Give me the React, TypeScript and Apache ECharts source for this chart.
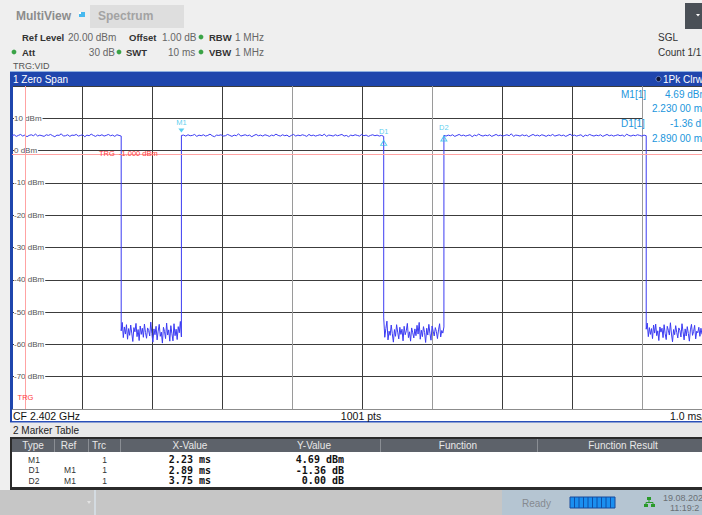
import React, { useEffect, useRef } from "react";
import * as echarts from "echarts";

// ---------- scale settings ----------
const REF_LEVEL = 20; // dBm (top of the diagram)
const Y_BOTTOM = -80; // dBm
const DB_PER_DIV = 10;
const MS_PER_DIV = 1.0;
const TRIGGER_POS_DIV = 0.19; // trigger point, in divisions from the left edge
const VISIBLE_DIVS = 9.857; // the screenshot cuts the diagram at the right
const TRIGGER_LEVEL = -1.0; // dBm

// ---------- trace (edge times in ms, relative to trigger) ----------
const edgeTimes = [-0.19, 1.37, 2.23, 5.12, 5.98, 8.87, 9.667];

const high1 = [4.6, 4.9, 4.4, 4.7, 5.0, 4.5, 4.8, 4.3, 4.7, 4.9, 4.6, 5.1, 4.5, 4.8, 4.6, 4.4, 4.9, 4.7, 5.0, 4.6, 4.3, 4.8, 4.7, 5.2, 4.5, 4.6, 4.9, 4.4, 4.8, 4.7, 5.0, 4.5, 4.7, 4.9, 4.3, 4.8, 4.6, 5.1, 4.7, 4.4, 4.8, 4.6, 4.9, 4.5, 4.7, 5.0, 4.6, 4.8, 4.4, 4.9, 4.7, 4.5];
const low1 = [-55.8, -53.2, -57.9, -54.6, -56.8, -53.9, -58.4, -55.1, -57.2, -54.0, -56.5, -59.1, -54.8, -56.1, -53.5, -57.6, -55.4, -58.8, -54.3, -56.9, -55.0, -57.8, -53.7, -56.3, -58.1, -54.9, -55.7, -57.4, -53.1, -56.6, -59.3, -55.2, -57.0, -54.4, -58.6, -55.9, -53.8, -57.5, -56.2, -59.6, -54.7, -56.0, -58.2, -53.4, -57.1, -55.5, -59.0, -54.2, -56.7, -58.9, -53.6, -57.3, -55.3, -58.5, -54.5, -56.4, -52.9, -57.7];
const high2 = [4.69, 4.8, 4.5, 4.9, 4.6, 4.7, 5.0, 4.4, 4.8, 4.6, 4.9, 4.5, 4.7, 5.1, 4.6, 4.3, 4.8, 4.7, 4.9, 4.5, 4.6, 5.0, 4.7, 4.4, 4.8, 4.6, 5.2, 4.5, 4.7, 4.9, 4.6, 4.8, 4.3, 4.7, 5.0, 4.6, 4.8, 4.5, 4.9, 4.7, 4.4, 4.8, 4.6, 5.1, 4.7, 4.5, 4.9, 4.6, 4.8, 4.3, 4.7, 5.0, 4.5, 4.8, 4.6, 4.9, 4.7, 4.4, 5.0, 4.6, 4.8, 4.5, 4.7, 4.9, 4.6, 5.1, 4.4, 4.8, 4.7, 4.5, 4.9, 4.6, 4.8, 5.0, 4.5, 4.7, 4.3, 4.8, 4.6, 4.9, 4.7, 4.5, 5.0, 4.6, 4.8, 4.4, 4.7, 4.9, 4.6, 4.8, 4.5, 4.7, 4.4];
const low2 = [-51.8, -57.8, -55.1, -52.8, -58.6, -55.9, -57.2, -54.0, -56.7, -59.3, -55.4, -57.5, -53.9, -56.2, -58.3, -54.7, -56.9, -55.3, -58.9, -54.4, -57.0, -55.8, -53.5, -57.9, -56.1, -59.0, -54.9, -56.4, -58.0, -55.2, -57.3, -54.1, -56.8, -53.2, -58.4, -55.6, -57.6, -54.5, -56.3, -59.4, -55.0, -57.1, -53.8, -56.6, -58.7, -54.3, -55.9, -57.4, -54.8, -56.0, -58.2, -55.5, -53.6, -57.7, -55.7, -56.5, -54.6];
const high3 = [4.69, 4.5, 4.8, 4.6, 4.9, 4.4, 4.7, 5.0, 4.6, 4.8, 4.5, 4.7, 4.9, 4.3, 4.8, 4.6, 5.1, 4.7, 4.5, 4.8, 4.6, 4.9, 4.4, 4.7, 5.0, 4.6, 4.8, 4.5, 4.7, 4.9, 4.6, 5.2, 4.4, 4.8, 4.7, 4.5, 4.9, 4.6, 4.8, 4.3, 4.7, 5.0, 4.6, 4.8, 4.5, 4.9, 4.7, 4.4, 4.8, 4.6, 5.0, 4.5, 4.7, 4.9, 4.6, 4.8, 4.4, 4.7, 5.1, 4.6, 4.8, 4.5, 4.7, 4.9, 4.3, 4.8, 4.6, 5.0, 4.7, 4.5, 4.8, 4.6, 4.9, 4.4, 4.7, 5.0, 4.6, 4.8, 4.5, 4.7, 4.9, 4.6, 4.8, 4.4, 5.1, 4.7, 4.5, 4.8, 4.6, 4.9, 4.7, 4.5, 4.8, 4.6];
const low3 = [-55.3, -53.4, -57.6, -54.8, -56.9, -55.1, -58.2, -54.0, -56.5, -53.7, -57.3, -55.8, -58.8, -54.6, -56.2, -55.0, -57.9, -53.9, -56.7, -58.5, -54.4, -55.6, -57.1, -53.3, -56.8, -59.2, -55.4, -57.0, -54.2, -56.3, -58.0, -54.9, -55.7, -57.7, -53.6, -56.1, -58.6, -55.2, -57.4, -54.5, -56.6, -59.0, -55.5, -53.8, -57.2, -56.0, -54.1, -58.3, -55.9, -56.4, -54.7, -57.5, -55.0, -56.9];
const traceSegments = [high1, low1, high2, low2, high3, low3];

// ---------- markers ----------
const m1Time = 2.23; // ms
const m1Level = 4.69; // dBm
const markerNames = ["M1", "D1", "D2"];
const deltaTimes = [0, 2.89, 3.75]; // ms relative to M1
const deltaLevels = [0, -1.36, 0.0]; // dB relative to M1

// ---------- marker table ----------
const tableHeaders = ["Type", "Ref", "Trc", "X-Value", "Y-Value", "Function", "Function Result"];
const tableTypes = ["M1", "D1", "D2"];
const tableRefs = ["", "M1", "M1"];
const tableTrc = ["1", "1", "1"];
const tableX = ["2.23 ms", "2.89 ms", "3.75 ms"];
const tableY = ["4.69 dBm", "-1.36 dB", "0.00 dB"];

const yTickValues = [10, 0, -10, -20, -30, -40, -50, -60, -70];

const SANS = '"Liberation Sans", Arial, sans-serif';
const MONO = '"DejaVu Sans Mono", monospace';

function toDiv(ms: number) {
  return ms / MS_PER_DIV + TRIGGER_POS_DIV;
}

function txt(x: number, y: number, text: string, o: any = {}) {
  const align = o.align ?? "left";
  return {
    type: "text",
    x,
    y,
    z: o.z ?? 10,
    silent: true,
    style: {
      text,
      fill: o.fill ?? "#222",
      fontSize: o.size ?? 10,
      fontFamily: o.family ?? SANS,
      fontWeight: o.bold ? "bold" : "normal",
      align,
      textAlign: align,
      verticalAlign: "middle",
      textVerticalAlign: "middle",
    },
  };
}
function rect(x: number, y: number, w: number, h: number, fill: string, o: any = {}) {
  return {
    type: "rect",
    z: o.z ?? 5,
    silent: true,
    shape: { x, y, width: w, height: h },
    style: { fill, stroke: o.stroke ?? null, lineWidth: o.lineWidth ?? 0 },
  };
}
function dot(cx: number, cy: number, fill: string) {
  return { type: "circle", z: 10, silent: true, shape: { cx, cy, r: 2.4 }, style: { fill } };
}
function line(x1: number, y1: number, x2: number, y2: number, stroke: string, w = 1) {
  return { type: "line", z: 11, silent: true, shape: { x1, y1, x2, y2 }, style: { stroke, lineWidth: w } };
}

export default function App() {
  const ref = useRef<HTMLDivElement>(null);

  useEffect(() => {
    if (!ref.current) return;
    const chart = echarts.init(ref.current, undefined, { renderer: "svg" });

    const traceData: number[][] = [];
    traceSegments.forEach((vals, s) => {
      const t0 = edgeTimes[s];
      const t1 = edgeTimes[s + 1];
      vals.forEach((v, i) => {
        const t = t0 + ((t1 - t0) * i) / (vals.length - 1);
        traceData.push([toDiv(t), v]);
      });
    });

    const mColor = "#2fc2ea";
    const markerData = markerNames.map((name, i) => {
      const isRef = i === 0;
      return {
        value: [toDiv(m1Time + deltaTimes[i]), m1Level + deltaLevels[i]],
        symbol: isRef ? "path://M0,0 L10,0 L5,8 Z" : "triangle",
        symbolSize: isRef ? [6, 4] : [6, 5],
        symbolOffset: isRef ? [0, -5] : [0, 3],
        itemStyle: isRef
          ? { color: mColor }
          : { color: "rgba(255,255,255,0)", borderColor: mColor, borderWidth: 1 },
        label: {
          show: true,
          formatter: name,
          position: "top",
          distance: isRef ? 2 : 4,
          color: mColor,
          fontSize: 7.5,
          fontFamily: SANS,
        },
      };
    });

    const gridColorsX = ["#1f46ad", "#3c3c3c", "#3c3c3c", "#3c3c3c", "#9a9a9a", "#3c3c3c", "#9a9a9a", "#3c3c3c", "#3c3c3c", "#9a9a9a", "#3c3c3c"];
    const gridColorsY = ["#8c8c8c", "#3c3c3c", "#3c3c3c", "#3c3c3c", "#3c3c3c", "#3c3c3c", "#3c3c3c", "#3c3c3c", "#3c3c3c", "#3c3c3c", "#3c3c3c"];

    const green = "#3aa346";
    const infoColor = "#2196dc";
    const B = 9.5; // bold header label size
    const graphics: any[] = [
      // header
      txt(16, 16, "MultiView", { bold: true, size: 12, fill: "#8c8c8c" }),
      rect(79, 12, 6, 5, "#47b9ef"),
      rect(79, 12, 2, 2, "#ffffff", { z: 6 }),
      rect(90, 5, 94, 23, "#dedede"),
      txt(98, 16, "Spectrum", { bold: true, size: 12, fill: "#a3a3a3" }),
      txt(22, 37, "Ref Level", { bold: true, size: B, fill: "#333" }),
      txt(68, 37, "20.00 dBm", { fill: "#666" }),
      txt(129, 37, "Offset", { bold: true, size: B, fill: "#333" }),
      txt(162, 37, "1.00 dB", { fill: "#666" }),
      dot(201, 37, green),
      txt(209, 37, "RBW", { bold: true, size: B, fill: "#333" }),
      txt(235, 37, "1 MHz", { fill: "#666" }),
      dot(14, 52, green),
      txt(22, 52, "Att", { bold: true, size: B, fill: "#333" }),
      txt(115, 52, "30 dB", { fill: "#666", align: "right" }),
      dot(119, 52, green),
      txt(126, 52, "SWT", { bold: true, size: B, fill: "#333" }),
      txt(168, 52, "10 ms", { fill: "#666" }),
      dot(201, 52, green),
      txt(209, 52, "VBW", { bold: true, size: B, fill: "#333" }),
      txt(235, 52, "1 MHz", { fill: "#666" }),
      txt(13, 65.5, "TRG:VID", { size: 9, fill: "#555" }),
      rect(685, 3, 17, 26, "#4a5057"),
      { type: "polygon", z: 11, silent: true, shape: { points: [[696, 14], [700, 14], [698, 16.5]] }, style: { fill: "#ffffff" } },
      txt(658, 37, "SGL", { fill: "#333" }),
      txt(658, 52, "Count 1/1", { fill: "#333" }),

      // window 1 frame & title
      rect(10, 71, 692, 1, "#8fb0e0"),
      rect(10, 72, 692, 14, "#1f46ad"),
      txt(13, 79, "1 Zero Span", { fill: "#ffffff" }),
      { type: "circle", z: 11, silent: true, shape: { cx: 658.5, cy: 79, r: 2.6 }, style: { fill: "#0d1435", stroke: "#7f9be0", lineWidth: 0.8 } },
      txt(663, 79, "1Pk Clrw", { fill: "#ffffff" }),
      rect(10, 72, 2, 350, "#1f46ad", { z: 6 }),
      rect(12, 410, 690, 11, "#ffffff"),
      rect(10, 421, 692, 1.5, "#2a50b8"),
      txt(13, 416, "CF 2.402 GHz", { size: 10.5, fill: "#111" }),
      txt(361, 416, "1001 pts", { size: 10.5, fill: "#111", align: "center" }),
      txt(670, 416, "1.0 ms/", { size: 10.5, fill: "#111" }),

      // trigger annotations
      txt(99, 153.5, "TRG  -1.000 dBm", { size: 7.5, fill: "#ff3b3b", z: 12 }),
      txt(25.5, 397, "TRG", { size: 7.5, fill: "#ff3b3b", align: "center", z: 12 }),

      // marker info box
      rect(643, 87, 59, 60, "#ffffff", { z: 1 }),
      txt(621, 94, "M1[1]", { fill: infoColor }),
      txt(665, 94, "4.69 dBm", { fill: infoColor }),
      txt(652, 108, "2.230 00 ms", { fill: infoColor }),
      txt(621, 123, "D1[1]", { fill: infoColor }),
      txt(670, 123, "-1.36 dB", { fill: infoColor }),
      txt(652, 138, "2.890 00 ms", { fill: infoColor }),

      // window 2: marker table
      rect(10, 423, 692, 14, "#e9e9e9"),
      txt(13, 430.5, "2 Marker Table", { fill: "#222" }),
      rect(10, 437, 692, 53, "#2b2b2b"),
      rect(12, 439, 690, 13, "#5d626a", { z: 6 }),
      rect(12, 452, 690, 35, "#ffffff", { z: 6 }),
      line(54.5, 439, 54.5, 452, "#8a8e94"),
      line(88.5, 439, 88.5, 452, "#8a8e94"),
      line(120.5, 439, 120.5, 452, "#8a8e94"),
      line(380.5, 439, 380.5, 452, "#8a8e94"),
      line(537.5, 439, 537.5, 452, "#8a8e94"),

      // status bar
      rect(0, 490, 502, 25, "#c6c6c6"),
      rect(502, 490, 200, 25, "#b5c5d2"),
      rect(94, 490, 2, 25, "#d4dbe1", { z: 6 }),
      { type: "polygon", z: 11, silent: true, shape: { points: [[87, 501], [91, 501], [89, 504]] }, style: { fill: "#e2e2e2" } },
      txt(522, 503, "Ready", { fill: "#858a90" }),
      rect(570, 497, 45, 11, "#1a8ff0", { stroke: "#174a9c", lineWidth: 1, z: 6 }),
      txt(663, 497.5, "19.08.202", { size: 9, fill: "#6b7075" }),
      txt(670, 507.5, "11:19:2", { size: 9, fill: "#6b7075" }),
      rect(647, 497, 4, 3, "#2a9a2a", { z: 11 }),
      rect(644, 504, 4, 3, "#2a9a2a", { z: 11 }),
      rect(651, 504, 4, 3, "#2a9a2a", { z: 11 }),
      line(649, 500, 649, 502.5, "#2a9a2a"),
      line(646, 502.5, 653, 502.5, "#2a9a2a"),
      line(646, 502.5, 646, 504, "#2a9a2a"),
      line(653, 502.5, 653, 504, "#2a9a2a"),
    ];
    for (let k = 1; k < 10; k++) {
      graphics.push(line(570 + 4.5 * k, 497, 570 + 4.5 * k, 508, "#0e4fa8"));
    }
    const colCenters = [33, 68.5, 99, 190, 314, 458, 623];
    tableHeaders.forEach((h, i) => graphics.push(txt(colCenters[i], 445.5, h, { fill: "#e8e8e8", align: "center" })));
    const rowY = [459.5, 470, 480.5];
    tableTypes.forEach((t, i) => {
      graphics.push(txt(34, rowY[i], t, { size: 8.5, fill: "#333", align: "center" }));
      graphics.push(txt(70, rowY[i], tableRefs[i], { size: 8.5, fill: "#333", align: "center" }));
      graphics.push(txt(104.5, rowY[i], tableTrc[i], { size: 8.5, fill: "#333", align: "center" }));
      graphics.push(txt(211, rowY[i], tableX[i], { size: 10, bold: true, family: MONO, fill: "#111", align: "right" }));
      graphics.push(txt(344, rowY[i], tableY[i], { size: 10, bold: true, family: MONO, fill: "#111", align: "right" }));
    });

    chart.setOption({
      animation: false,
      backgroundColor: "#efefef",
      textStyle: { fontFamily: SANS },
      grid: {
        left: 12,
        top: 86,
        width: 690,
        height: 323,
        show: true,
        backgroundColor: "#ffffff",
        borderWidth: 0,
      },
      xAxis: {
        type: "value",
        min: 0,
        max: VISIBLE_DIVS,
        interval: 1,
        axisLabel: { show: false },
        axisLine: { show: false },
        axisTick: { show: false },
        splitLine: { show: true, lineStyle: { color: gridColorsX, width: 1 } },
      },
      yAxis: {
        type: "value",
        min: Y_BOTTOM,
        max: REF_LEVEL,
        interval: DB_PER_DIV,
        axisLine: { show: false },
        axisTick: { show: false },
        axisLabel: {
          inside: true,
          margin: 2,
          showMinLabel: false,
          showMaxLabel: false,
          fontSize: 8,
          color: "#555",
          fontFamily: SANS,
          backgroundColor: "#ffffff",
          padding: [0, 1, 0, 0],
          formatter: (v: number) => (yTickValues.includes(v) ? `${v} dBm` : ""),
        },
        splitLine: { show: true, lineStyle: { color: gridColorsY, width: 1 } },
      },
      series: [
        {
          type: "line",
          name: "Trace 1",
          data: traceData,
          showSymbol: false,
          symbol: "none",
          silent: true,
          z: 3,
          lineStyle: { color: "#3b3bf2", width: 1 },
          markLine: {
            silent: true,
            symbol: ["none", "none"],
            label: { show: false },
            lineStyle: { color: "#ffa3a3", type: "solid", width: 1 },
            data: [{ yAxis: TRIGGER_LEVEL }, { xAxis: toDiv(0) }],
          },
        },
        {
          type: "scatter",
          name: "Markers",
          data: markerData,
          silent: true,
          z: 4,
        },
      ],
      graphic: { elements: graphics },
    });

    return () => chart.dispose();
  }, []);

  return (
    <div
      ref={ref}
      style={{ position: "fixed", left: 0, top: 0, width: 702, height: 515 }}
    />
  );
}
